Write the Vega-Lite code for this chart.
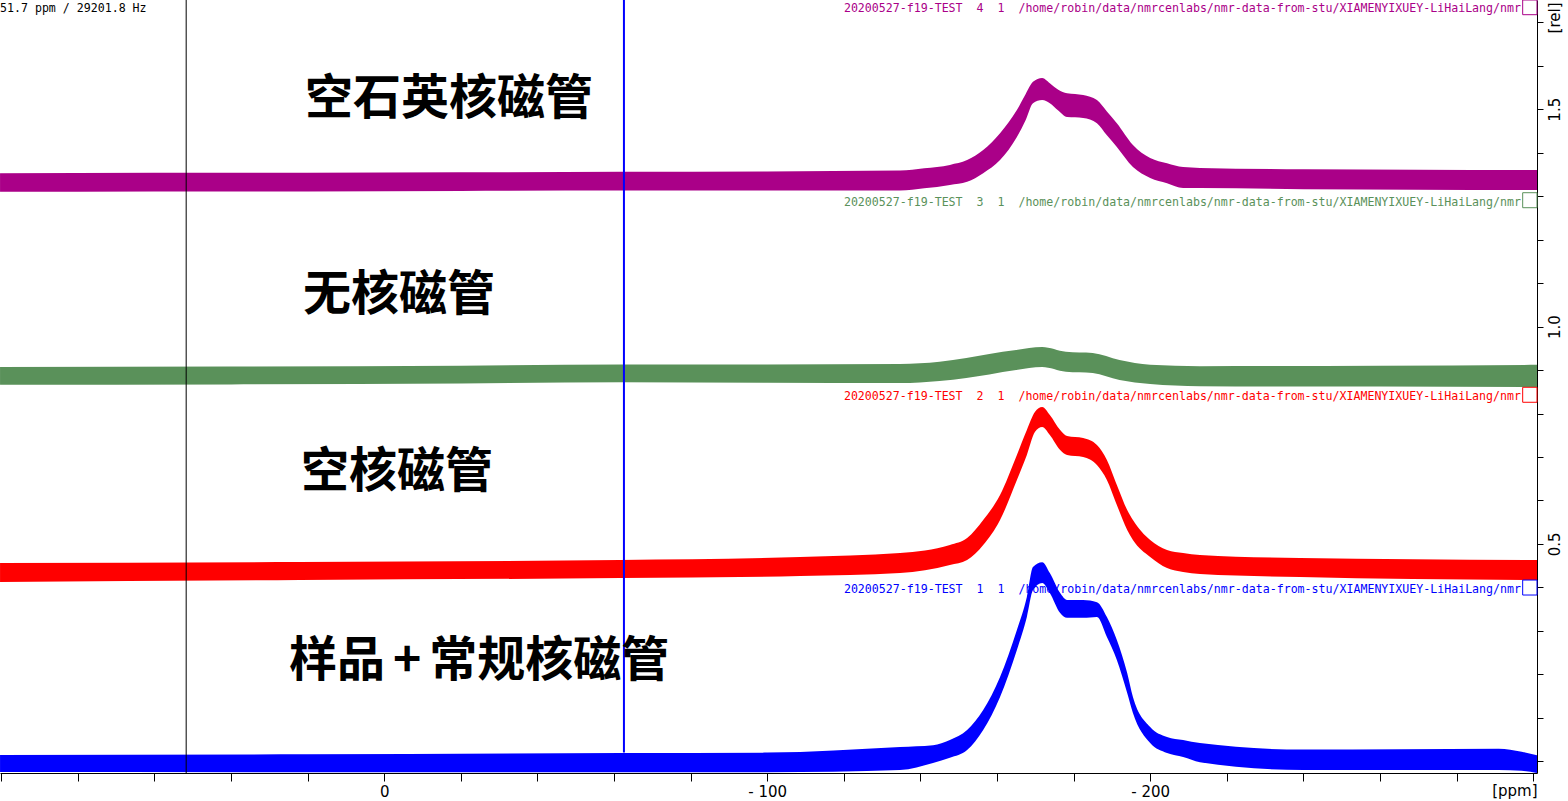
{
  "$schema": "https://vega.github.io/schema/vega-lite/v6.json",
  "autosize": {"type": "none"},
  "padding": {"left": 0, "top": 0, "right": 31, "bottom": 28},
  "width": 1537,
  "height": 773,
  "background": "white",
  "config": {"view": {"stroke": null}, "axis": {"grid": false}},
  "datasets": {
    "bands": [
      {"s": "s4", "ppm": 100.3, "lo": 1.310, "hi": 1.353},
      {"s": "s4", "ppm": 60, "lo": 1.311, "hi": 1.354},
      {"s": "s4", "ppm": 20, "lo": 1.311, "hi": 1.354},
      {"s": "s4", "ppm": -20, "lo": 1.312, "hi": 1.355},
      {"s": "s4", "ppm": -62, "lo": 1.313, "hi": 1.356},
      {"s": "s4", "ppm": -100, "lo": 1.313, "hi": 1.357},
      {"s": "s4", "ppm": -134.7, "lo": 1.313, "hi": 1.359},
      {"s": "s4", "ppm": -141, "lo": 1.318, "hi": 1.364},
      {"s": "s4", "ppm": -147.7, "lo": 1.326, "hi": 1.372},
      {"s": "s4", "ppm": -152.2, "lo": 1.333, "hi": 1.383},
      {"s": "s4", "ppm": -156.4, "lo": 1.353, "hi": 1.406},
      {"s": "s4", "ppm": -160.8, "lo": 1.383, "hi": 1.445},
      {"s": "s4", "ppm": -165.2, "lo": 1.436, "hi": 1.498},
      {"s": "s4", "ppm": -167.5, "lo": 1.475, "hi": 1.535},
      {"s": "s4", "ppm": -169.4, "lo": 1.514, "hi": 1.563},
      {"s": "s4", "ppm": -171.8, "lo": 1.521, "hi": 1.572},
      {"s": "s4", "ppm": -173.8, "lo": 1.514, "hi": 1.560},
      {"s": "s4", "ppm": -176, "lo": 1.497, "hi": 1.545},
      {"s": "s4", "ppm": -178.3, "lo": 1.482, "hi": 1.537},
      {"s": "s4", "ppm": -182.5, "lo": 1.480, "hi": 1.533},
      {"s": "s4", "ppm": -186.1, "lo": 1.468, "hi": 1.521},
      {"s": "s4", "ppm": -188.7, "lo": 1.440, "hi": 1.495},
      {"s": "s4", "ppm": -191.3, "lo": 1.413, "hi": 1.468},
      {"s": "s4", "ppm": -195.5, "lo": 1.367, "hi": 1.418},
      {"s": "s4", "ppm": -200.0, "lo": 1.342, "hi": 1.388},
      {"s": "s4", "ppm": -204.4, "lo": 1.330, "hi": 1.376},
      {"s": "s4", "ppm": -208.6, "lo": 1.319, "hi": 1.367},
      {"s": "s4", "ppm": -213.0, "lo": 1.319, "hi": 1.365},
      {"s": "s4", "ppm": -240, "lo": 1.316, "hi": 1.362},
      {"s": "s4", "ppm": -270, "lo": 1.315, "hi": 1.361},
      {"s": "s4", "ppm": -301, "lo": 1.314, "hi": 1.360},

      {"s": "s3", "ppm": 100.3, "lo": 0.866, "hi": 0.907},
      {"s": "s3", "ppm": 40, "lo": 0.867, "hi": 0.908},
      {"s": "s3", "ppm": -20, "lo": 0.869, "hi": 0.910},
      {"s": "s3", "ppm": -62, "lo": 0.872, "hi": 0.913},
      {"s": "s3", "ppm": -100, "lo": 0.871, "hi": 0.913},
      {"s": "s3", "ppm": -134.7, "lo": 0.870, "hi": 0.914},
      {"s": "s3", "ppm": -145, "lo": 0.875, "hi": 0.919},
      {"s": "s3", "ppm": -152, "lo": 0.882, "hi": 0.928},
      {"s": "s3", "ppm": -158, "lo": 0.890, "hi": 0.937},
      {"s": "s3", "ppm": -165, "lo": 0.900, "hi": 0.946},
      {"s": "s3", "ppm": -171.8, "lo": 0.907, "hi": 0.953},
      {"s": "s3", "ppm": -178, "lo": 0.896, "hi": 0.942},
      {"s": "s3", "ppm": -185, "lo": 0.893, "hi": 0.939},
      {"s": "s3", "ppm": -192, "lo": 0.877, "hi": 0.923},
      {"s": "s3", "ppm": -200, "lo": 0.868, "hi": 0.912},
      {"s": "s3", "ppm": -213, "lo": 0.863, "hi": 0.909},
      {"s": "s3", "ppm": -260, "lo": 0.862, "hi": 0.910},
      {"s": "s3", "ppm": -301, "lo": 0.861, "hi": 0.912},

      {"s": "s2", "ppm": 100.3, "lo": 0.4124, "hi": 0.4561},
      {"s": "s2", "ppm": 22.0, "lo": 0.4170, "hi": 0.4584},
      {"s": "s2", "ppm": -61.6, "lo": 0.4216, "hi": 0.4630},
      {"s": "s2", "ppm": -108.6, "lo": 0.4262, "hi": 0.4699},
      {"s": "s2", "ppm": -134.7, "lo": 0.4331, "hi": 0.4791},
      {"s": "s2", "ppm": -147.7, "lo": 0.4515, "hi": 0.4976},
      {"s": "s2", "ppm": -152.2, "lo": 0.4630, "hi": 0.5136},
      {"s": "s2", "ppm": -156.4, "lo": 0.4976, "hi": 0.5551},
      {"s": "s2", "ppm": -160.8, "lo": 0.5551, "hi": 0.6126},
      {"s": "s2", "ppm": -165.2, "lo": 0.6471, "hi": 0.7046},
      {"s": "s2", "ppm": -167.8, "lo": 0.7046, "hi": 0.7621},
      {"s": "s2", "ppm": -169.9, "lo": 0.7575, "hi": 0.8035},
      {"s": "s2", "ppm": -171.8, "lo": 0.7690, "hi": 0.8150},
      {"s": "s2", "ppm": -173.8, "lo": 0.7506, "hi": 0.7966},
      {"s": "s2", "ppm": -176.5, "lo": 0.7161, "hi": 0.7621},
      {"s": "s2", "ppm": -178.3, "lo": 0.7046, "hi": 0.7483},
      {"s": "s2", "ppm": -182.5, "lo": 0.7000, "hi": 0.7437},
      {"s": "s2", "ppm": -186.1, "lo": 0.6816, "hi": 0.7276},
      {"s": "s2", "ppm": -188.7, "lo": 0.6471, "hi": 0.6931},
      {"s": "s2", "ppm": -191.3, "lo": 0.5896, "hi": 0.6356},
      {"s": "s2", "ppm": -194.0, "lo": 0.5321, "hi": 0.5781},
      {"s": "s2", "ppm": -195.5, "lo": 0.5091, "hi": 0.5551},
      {"s": "s2", "ppm": -200.0, "lo": 0.4700, "hi": 0.5091},
      {"s": "s2", "ppm": -204.4, "lo": 0.4446, "hi": 0.4861},
      {"s": "s2", "ppm": -208.6, "lo": 0.4354, "hi": 0.4791},
      {"s": "s2", "ppm": -213.0, "lo": 0.4308, "hi": 0.4745},
      {"s": "s2", "ppm": -239.1, "lo": 0.4239, "hi": 0.4676},
      {"s": "s2", "ppm": -301, "lo": 0.4170, "hi": 0.4630},

      {"s": "s1", "ppm": 100.3, "lo": -0.0246, "hi": 0.0145},
      {"s": "s1", "ppm": 20, "lo": -0.025, "hi": 0.016},
      {"s": "s1", "ppm": -62, "lo": -0.025, "hi": 0.019},
      {"s": "s1", "ppm": -100, "lo": -0.025, "hi": 0.020},
      {"s": "s1", "ppm": -134.7, "lo": -0.020, "hi": 0.033},
      {"s": "s1", "ppm": -143.3, "lo": -0.004, "hi": 0.037},
      {"s": "s1", "ppm": -147.7, "lo": 0.008, "hi": 0.049},
      {"s": "s1", "ppm": -152.2, "lo": 0.026, "hi": 0.072},
      {"s": "s1", "ppm": -156.4, "lo": 0.072, "hi": 0.118},
      {"s": "s1", "ppm": -160.8, "lo": 0.148, "hi": 0.194},
      {"s": "s1", "ppm": -165.2, "lo": 0.256, "hi": 0.302},
      {"s": "s1", "ppm": -167.8, "lo": 0.332, "hi": 0.378},
      {"s": "s1", "ppm": -169.4, "lo": 0.394, "hi": 0.447},
      {"s": "s1", "ppm": -171.8, "lo": 0.410, "hi": 0.458},
      {"s": "s1", "ppm": -173.8, "lo": 0.387, "hi": 0.433},
      {"s": "s1", "ppm": -176.5, "lo": 0.341, "hi": 0.387},
      {"s": "s1", "ppm": -178.3, "lo": 0.330, "hi": 0.371},
      {"s": "s1", "ppm": -182.5, "lo": 0.330, "hi": 0.371},
      {"s": "s1", "ppm": -186.1, "lo": 0.332, "hi": 0.366},
      {"s": "s1", "ppm": -188.7, "lo": 0.286, "hi": 0.332},
      {"s": "s1", "ppm": -191.3, "lo": 0.233, "hi": 0.279},
      {"s": "s1", "ppm": -194.0, "lo": 0.157, "hi": 0.203},
      {"s": "s1", "ppm": -195.5, "lo": 0.111, "hi": 0.148},
      {"s": "s1", "ppm": -200.0, "lo": 0.042, "hi": 0.079},
      {"s": "s1", "ppm": -204.4, "lo": 0.019, "hi": 0.056},
      {"s": "s1", "ppm": -208.6, "lo": 0.010, "hi": 0.049},
      {"s": "s1", "ppm": -213.0, "lo": -0.002, "hi": 0.042},
      {"s": "s1", "ppm": -240, "lo": -0.020, "hi": 0.027},
      {"s": "s1", "ppm": -291, "lo": -0.020, "hi": 0.029},
      {"s": "s1", "ppm": -297, "lo": -0.022, "hi": 0.022},
      {"s": "s1", "ppm": -301, "lo": -0.027, "hi": 0.014}
    ],
    "boxes": [
      {"s": "s4", "x1": -297.26, "x2": -301, "y1": 1.7513, "y2": 1.7175},
      {"s": "s3", "x1": -297.26, "x2": -301, "y1": 1.3080, "y2": 1.2735},
      {"s": "s2", "x1": -297.26, "x2": -301, "y1": 0.8604, "y2": 0.8259},
      {"s": "s1", "x1": -297.26, "x2": -301, "y1": 0.4170, "y2": 0.3825}
    ],
    "headers": [
      {"s": "s4", "ppm": -296.82, "v": 1.7306, "label": "20200527-f19-TEST\u00a0\u00a04\u00a0\u00a01\u00a0\u00a0/home/robin/data/nmrcenlabs/nmr-data-from-stu/XIAMENYIXUEY-LiHaiLang/nmr"},
      {"s": "s3", "ppm": -296.82, "v": 1.2843, "label": "20200527-f19-TEST\u00a0\u00a03\u00a0\u00a01\u00a0\u00a0/home/robin/data/nmrcenlabs/nmr-data-from-stu/XIAMENYIXUEY-LiHaiLang/nmr"},
      {"s": "s2", "ppm": -296.82, "v": 0.8380, "label": "20200527-f19-TEST\u00a0\u00a02\u00a0\u00a01\u00a0\u00a0/home/robin/data/nmrcenlabs/nmr-data-from-stu/XIAMENYIXUEY-LiHaiLang/nmr"},
      {"s": "s1", "ppm": -296.82, "v": 0.3940, "label": "20200527-f19-TEST\u00a0\u00a01\u00a0\u00a01\u00a0\u00a0/home/robin/data/nmrcenlabs/nmr-data-from-stu/XIAMENYIXUEY-LiHaiLang/nmr"}
    ],
    "labels": [
      {"ppm": 20.68, "v": 1.5213, "label": "空石英核磁管"},
      {"ppm": 21.20, "v": 1.0704, "label": "无核磁管"},
      {"ppm": 21.72, "v": 0.6632, "label": "空核磁管"},
      {"ppm": 24.85, "v": 0.2284, "label": "样品\u2006+\u2006常规核磁管"}
    ]
  },
  "layer": [
    {
      "data": {"name": "bands"},
      "mark": {"type": "area", "interpolate": "monotone", "clip": true},
      "encoding": {
        "x": {
          "field": "ppm", "type": "quantitative",
          "scale": {"domain": [-301.0, 100.31], "reverse": true, "nice": false, "zero": false},
          "axis": {
            "orient": "bottom",
            "values": [100, 80, 60, 40, 20, 0, -20, -40, -60, -80, -100, -120, -140, -160, -180, -200, -220, -240, -260, -280, -300],
            "labelExpr": "datum.value == 0 ? '0' : datum.value == -100 ? '- 100' : datum.value == -200 ? '- 200' : ''",
            "tickSize": 8, "tickColor": "black", "tickWidth": 1,
            "domainColor": "black", "domainWidth": 1,
            "labelFont": "DejaVu Sans", "labelFontSize": 15, "labelColor": "black",
            "labelPadding": 3, "labelBaseline": "top", "labelFlush": false, "labelOverlap": false,
            "title": "[ppm]", "titleX": 1537, "titleY": 22, "titleAlign": "right", "titleBaseline": "alphabetic",
            "titleFont": "DejaVu Sans", "titleFontSize": 15, "titleFontWeight": "normal", "titleColor": "black"
          }
        },
        "y": {
          "field": "hi", "type": "quantitative",
          "scale": {"domain": [-0.0269, 1.7513], "nice": false, "zero": false},
          "axis": {
            "orient": "right",
            "values": [0, 0.1, 0.2, 0.3, 0.4, 0.5, 0.6, 0.7, 0.8, 0.9, 1.0, 1.1, 1.2, 1.3, 1.4, 1.5, 1.6, 1.7],
            "labelExpr": "abs(datum.value - 0.5) < 0.001 ? '0.5' : abs(datum.value - 1) < 0.001 ? '1.0' : abs(datum.value - 1.5) < 0.001 ? '1.5' : ''",
            "tickSize": 6, "tickColor": "black", "tickWidth": 1,
            "domainColor": "black", "domainWidth": 1,
            "labelFont": "DejaVu Sans", "labelFontSize": 15, "labelColor": "black",
            "labelAngle": -90, "labelAlign": "center", "labelBaseline": "middle", "labelPadding": 11,
            "labelFlush": false, "labelOverlap": false,
            "title": "[rel]", "titleAngle": -90, "titleX": 17, "titleY": 2, "titleAlign": "right", "titleBaseline": "middle",
            "titleFont": "DejaVu Sans", "titleFontSize": 15, "titleFontWeight": "normal", "titleColor": "black"
          }
        },
        "y2": {"field": "lo"},
        "color": {
          "field": "s", "type": "nominal",
          "scale": {"domain": ["s1", "s2", "s3", "s4"], "range": ["#0000ff", "#ff0000", "#5a915a", "#aa0088"]},
          "legend": null
        }
      }
    },
    {
      "data": {"values": [{"ppm": -62.6, "lo": 0.02, "hi": 1.7513}]},
      "mark": {"type": "rule", "color": "#0000ff", "strokeWidth": 2, "clip": true},
      "encoding": {
        "x": {"field": "ppm", "type": "quantitative"},
        "y": {"field": "lo", "type": "quantitative"},
        "y2": {"field": "hi"}
      }
    },
    {
      "data": {"values": [{"ppm": 51.7}]},
      "mark": {"type": "rule", "color": "black", "strokeWidth": 1},
      "encoding": {
        "x": {"field": "ppm", "type": "quantitative"}
      }
    },
    {
      "data": {"name": "boxes"},
      "mark": {"type": "rect", "filled": false, "strokeWidth": 1},
      "encoding": {
        "x": {"field": "x1", "type": "quantitative"},
        "x2": {"field": "x2"},
        "y": {"field": "y1", "type": "quantitative"},
        "y2": {"field": "y2"},
        "color": {"field": "s", "type": "nominal", "legend": null}
      }
    },
    {
      "data": {"name": "headers"},
      "mark": {"type": "text", "align": "right", "baseline": "middle", "font": "DejaVu Sans Mono", "fontSize": 11.6},
      "encoding": {
        "x": {"field": "ppm", "type": "quantitative"},
        "y": {"field": "v", "type": "quantitative"},
        "text": {"field": "label"},
        "color": {"field": "s", "type": "nominal", "legend": null}
      }
    },
    {
      "data": {"values": [{"ppm": 100.31, "v": 1.7306, "label": "51.7 ppm / 29201.8 Hz"}]},
      "mark": {"type": "text", "align": "left", "baseline": "middle", "font": "DejaVu Sans Mono", "fontSize": 11.6, "color": "black"},
      "encoding": {
        "x": {"field": "ppm", "type": "quantitative"},
        "y": {"field": "v", "type": "quantitative"},
        "text": {"field": "label"}
      }
    },
    {
      "data": {"name": "labels"},
      "mark": {"type": "text", "align": "left", "baseline": "middle", "font": "Noto Sans CJK SC", "fontWeight": "bold", "fontSize": 48, "color": "black"},
      "encoding": {
        "x": {"field": "ppm", "type": "quantitative"},
        "y": {"field": "v", "type": "quantitative"},
        "text": {"field": "label"}
      }
    }
  ]
}
